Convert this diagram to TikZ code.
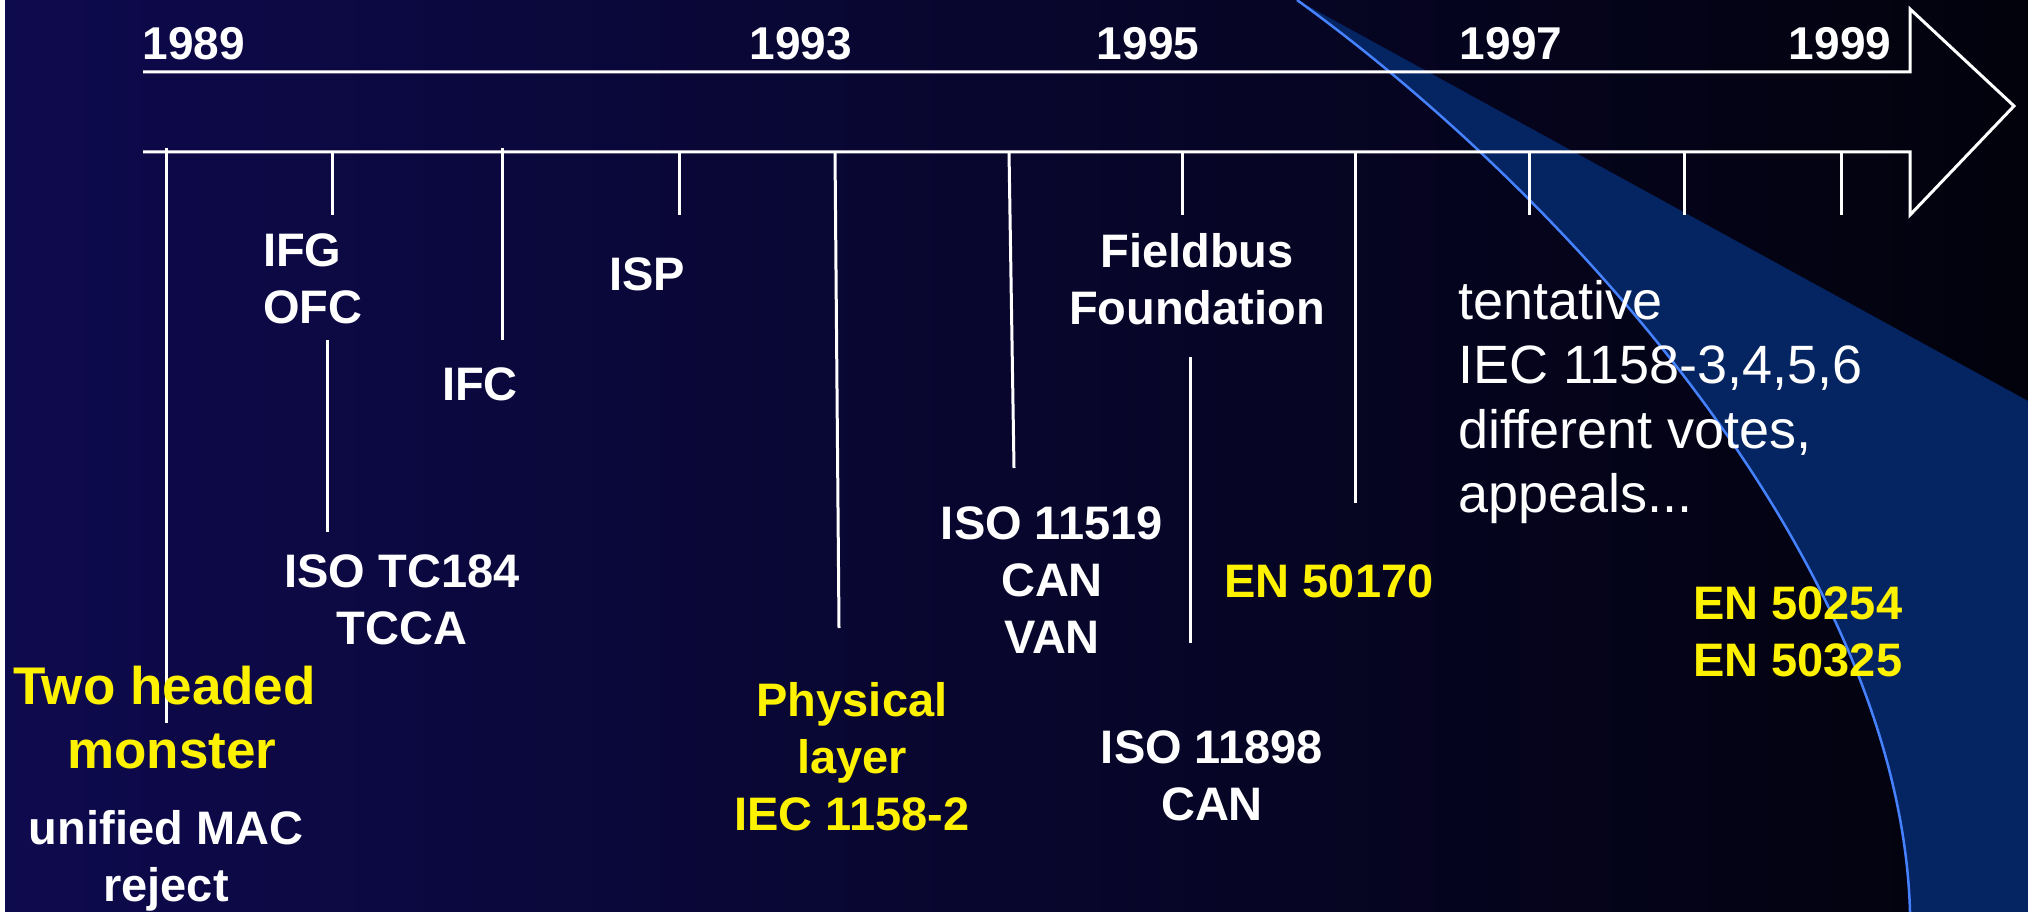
\documentclass[tikz,border=0pt]{standalone}
\usepackage{fontspec}
\setmainfont{Liberation Sans}
\usetikzlibrary{positioning}

\definecolor{slidenavy}{RGB}{14,10,78}
\definecolor{slidedark}{RGB}{2,2,12}
\definecolor{wedgeblue}{RGB}{5,36,98}
\definecolor{edgeblue}{RGB}{70,130,255}

\begin{document}
\begin{tikzpicture}[
    x=1pt, y=-1pt,
    every node/.style={inner sep=0pt, text=white},
    lbl/.style={font=\bfseries\fontsize{47}{57}\selectfont, align=center,
                anchor=north, execute at begin node=\strut},
    hot/.style={lbl, text=yellow},
    big/.style={hot, font=\bfseries\fontsize{53}{64}\selectfont},
    note/.style={font=\fontsize{54}{64.5}\selectfont, align=left,
                 anchor=north west, execute at begin node=\strut},
    yr/.style={font=\bfseries\fontsize{46}{55}\selectfont, anchor=base},
    tick/.style={draw=white, line width=3pt}
]
\useasboundingbox (0,0) rectangle (2028,912);

% background and blue wedge
\shade[left color=slidenavy, right color=slidedark] (0,0) rectangle (2028,912);
\fill[white] (0,0) rectangle (5,912);
\fill[wedgeblue] (1297,0) -- (2028,401) -- (2028,912) -- (1910,912)
    .. controls (1900,560) and (1560,190) .. (1297,0) -- cycle;
\draw[edgeblue, line width=2.5pt] (1297,0) .. controls (1560,190) and (1900,560) .. (1910,912);

% time arrow
\draw[tick] (143,72) -- (1910,72) -- (1910,9) -- (2014,106) -- (1910,215) -- (1910,152) -- (143,152);

\node[yr] (y89) at (194,60)  {1989};
\node[yr] (y93) at (801,60)  {1993};
\node[yr] (y95) at (1148,60) {1995};
\node[yr] (y97) at (1511,60) {1997};
\node[yr] (y99) at (1840,60) {1999};

% ticks and leaders
\draw[tick] (166,148) -- (166,723);
\draw[tick] (332,152) -- (332,215);
\draw[tick] (502,148) -- (502,340);
\draw[tick] (679,152) -- (679,215);
\draw[tick] (835,152) -- (839,628);
\draw[tick] (1009,152) -- (1014,468);
\draw[tick] (1182,152) -- (1182,215);
\draw[tick] (1355,152) -- (1355,503);
\draw[tick] (1529,152) -- (1529,215);
\draw[tick] (1684,152) -- (1684,215);
\draw[tick] (1841,152) -- (1841,215);
\draw[tick] (327,340) -- (327,532);
\draw[tick] (1190,357) -- (1190,643);

% events
\node[big] (monster) at (172,666) {Two headed\hspace*{14.7pt}\\monster};
\node[lbl] (mac) at (166,810) {unified MAC\\reject};
\node[lbl, anchor=north west, align=left] (ifg) at (263,233) {IFG\\OFC};
\node[lbl] (ifc) at (480,360) {IFC};
\node[lbl] (tc184) at (402,554) {ISO TC184\\TCCA};
\node[lbl] (isp) at (647,250) {ISP};
\node[hot] (phys) at (852,682) {Physical\\layer\\IEC 1158-2};
\node[lbl] (iso11519) at (1052,506) {ISO 11519\\CAN\\VAN};
\node[lbl] (ff) at (1197,233) {Fieldbus\\Foundation};
\node[lbl] (iso11898) at (1212,730) {ISO 11898\\CAN};
\node[hot] (en170) at (1329,557) {EN 50170};
\node[note] (votes) at (1458,280) {tentative\\IEC 1158-3,4,5,6\\different votes,\\appeals...};
\node[hot, anchor=north west, align=left] (en254) at (1693,586) {EN 50254\\EN 50325};
\end{tikzpicture}
\end{document}
